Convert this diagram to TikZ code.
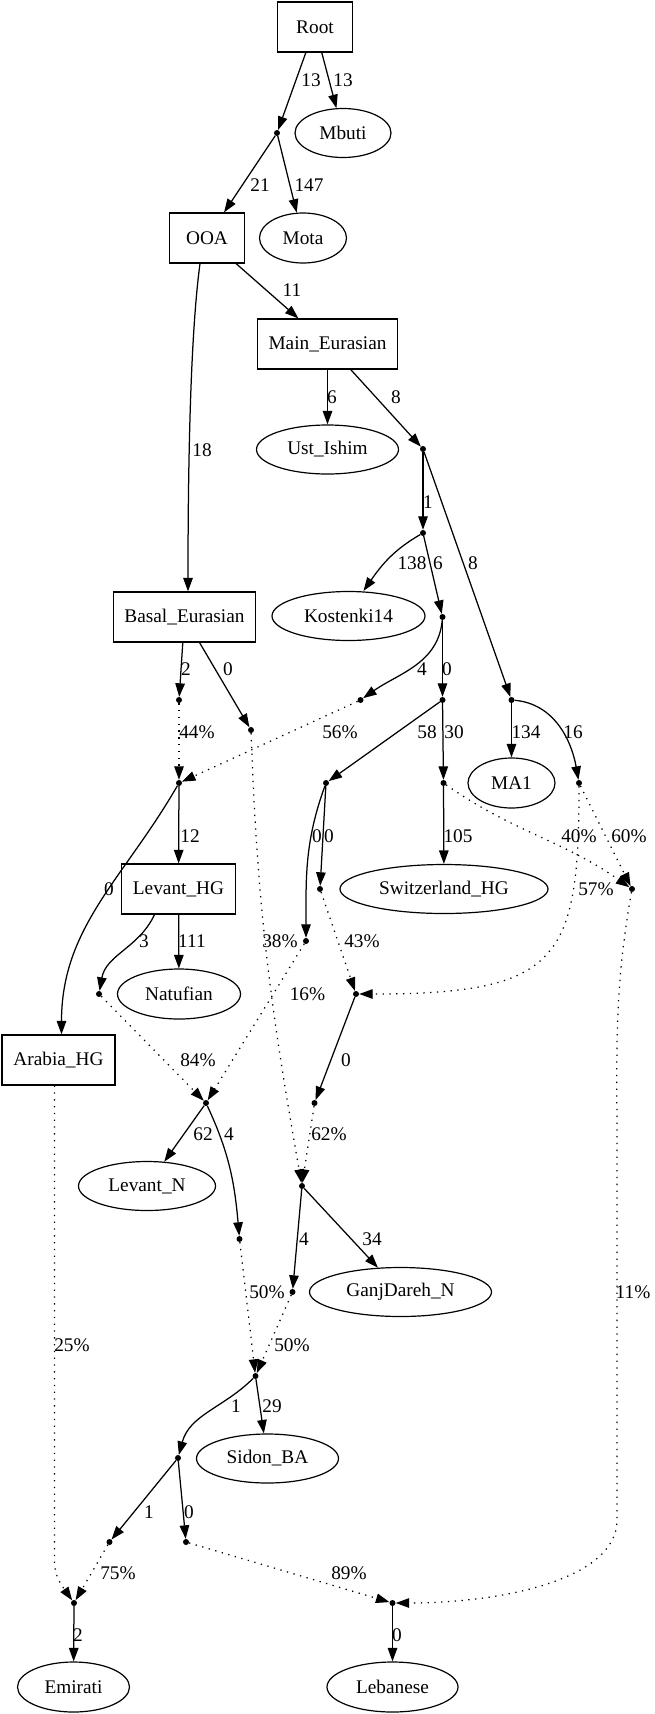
\documentclass[tikz,border=0pt]{standalone}
\usepackage{fontspec}
\setmainfont{Liberation Serif}
\usetikzlibrary{shapes.geometric,arrows.meta}
\begin{document}
\begin{tikzpicture}[x=1pt,y=-1pt]
       \tikzstyle{every node}=[font=\fontsize{19.3}{23}\selectfont]
       \tikzstyle{box}=[draw, rectangle, line width=1.2pt, minimum height=50pt, inner sep=0pt]
       \tikzstyle{pop}=[draw, ellipse, line width=1.2pt, minimum height=49pt, inner sep=0pt]
       \tikzstyle{dot}=[circle, fill, inner sep=0pt, minimum size=6pt]
       \tikzstyle{lbl}=[inner sep=0pt]
       \tikzstyle{drift}=[draw, line width=1.25pt, -{Triangle[length=13.5pt,width=9.5pt]}]
       \tikzstyle{admix}=[drift, dash pattern=on 1.3pt off 5.5pt]
       \useasboundingbox (0,0) rectangle (654,1714);
       \node[box, minimum width=75pt] (root) at (315,27) {Root};
       \node[pop, minimum width=96pt] (mbuti) at (343,133) {Mbuti};
       \node[dot] (p1) at (277,133) {};
       \node[box, minimum width=75pt] (ooa) at (207,238) {OOA};
       \node[pop, minimum width=87pt, minimum height=50pt] (mota) at (303,238) {Mota};
       \node[box, minimum width=140pt] (maineur) at (327.5,344) {Main\_Eurasian};
       \node[pop, minimum width=142pt] (ust) at (327.5,449.5) {Ust\_Ishim};
       \node[dot] (p2) at (423,449) {};
       \node[dot] (p3) at (423,533) {};
       \node[box, minimum width=142pt] (basal) at (184.5,617) {Basal\_Eurasian};
       \node[pop, minimum width=153pt] (kost) at (348.5,616) {Kostenki14};
       \node[dot] (p4) at (442.5,617) {};
       \node[dot] (p5) at (179,700) {};
       \node[dot] (p6) at (251,730) {};
       \node[dot] (p7) at (360.5,700) {};
       \node[dot] (p8) at (442.5,700) {};
       \node[dot] (p9) at (511.5,700) {};
       \node[dot] (p10) at (179,783) {};
       \node[dot] (p11) at (326,783) {};
       \node[dot] (p12) at (443.5,783) {};
       \node[pop, minimum width=87pt, minimum height=50pt] (ma1) at (511.5,783) {MA1};
       \node[dot] (p13) at (579,783) {};
       \node[box, minimum width=114pt] (levhg) at (178.5,889) {Levant\_HG};
       \node[dot] (p14) at (320,889) {};
       \node[pop, minimum width=208pt] (swiss) at (444,889) {Switzerland\_HG};
       \node[dot] (p15) at (632,889) {};
       \node[dot] (p16) at (306,941) {};
       \node[dot] (p18) at (99,994) {};
       \node[pop, minimum width=123pt, minimum height=50pt] (natuf) at (179,994) {Natufian};
       \node[dot] (p17) at (356,994) {};
       \node[box, minimum width=113pt] (arab) at (58.5,1060) {Arabia\_HG};
       \node[dot] (p19) at (206,1103) {};
       \node[dot] (p20) at (314.5,1103) {};
       \node[pop, minimum width=137pt] (levn) at (147,1186) {Levant\_N};
       \node[dot] (p21) at (302,1186) {};
       \node[dot] (p22) at (239.5,1239) {};
       \node[dot] (p23) at (292.5,1292) {};
       \node[pop, minimum width=182pt] (ganj) at (400.5,1292) {GanjDareh\_N};
       \node[dot] (p24) at (255.5,1376) {};
       \node[dot] (p25) at (178,1458) {};
       \node[pop, minimum width=142pt] (sidon) at (267.5,1458.5) {Sidon\_BA};
       \node[dot] (p26) at (109.5,1542) {};
       \node[dot] (p27) at (186,1542) {};
       \node[dot] (p28) at (74,1603) {};
       \node[dot] (p29) at (392.5,1603) {};
       \node[pop, minimum width=112pt, minimum height=50pt] (emir) at (73.5,1687) {Emirati};
       \node[pop, minimum width=131pt, minimum height=50pt] (leb) at (392.5,1687) {Lebanese};
       \draw[drift] (root) -- (p1) node[lbl] at (311,80) {13};
       \draw[drift] (root) -- (mbuti) node[lbl] at (343,80) {13};
       \draw[drift] (p1) -- (ooa) node[lbl] at (260,185) {21};
       \draw[drift] (p1) -- (mota) node[lbl] at (309,185) {147};
       \draw[drift] (ooa) -- (maineur) node[lbl] at (292,290) {11};
       \draw[drift] ([xshift=-7pt]ooa.south) .. controls (191,330) and (188,450) .. ([xshift=3.5pt]basal.north) node[lbl] at (202,450) {18};
       \draw[drift] (maineur) -- (ust) node[lbl] at (332,397) {6};
       \draw[drift] (maineur) -- (p2) node[lbl] at (396,397) {8};
       \draw[drift] (p2) -- (p3) node[lbl] at (428,502) {1};
       \draw[drift] (p2) -- (p9) node[lbl] at (473,563) {8};
       \draw[drift] (p3) to[out=-150,in=55] ([xshift=15pt]kost.north) node[lbl] at (412,563) {138};
       \draw[drift] (p3) -- (p4) node[lbl] at (438,563) {6};
       \draw[drift] (basal) -- (p5) node[lbl] at (186,669) {2};
       \draw[drift] (basal) -- (p6) node[lbl] at (228,669) {0};
       \draw[drift] (p4) to[out=-95,in=35] (p7) node[lbl] at (422,669) {4};
       \draw[drift] (p4) -- (p8) node[lbl] at (447,669) {0};
       \draw[admix] (p5) -- (p10) node[lbl] at (197,732) {44\%};
       \draw[admix] (p7) -- (p10) node[lbl] at (340,732) {56\%};
       \draw[drift] (p8) -- (p11) node[lbl] at (427,732) {58};
       \draw[drift] (p8) -- (p12) node[lbl] at (454,732) {30};
       \draw[drift] (p9) -- (ma1) node[lbl] at (526,732) {134};
       \draw[drift] (p9) to[out=-5,in=100] (p13) node[lbl] at (573,732) {16};
       \draw[drift] (p10) -- (levhg) node[lbl] at (190,836) {12};
       \draw[drift] (p11) to[out=-110,in=90] (p16) node[lbl] at (317,836) {0};
       \draw[drift] (p11) -- (p14) node[lbl] at (329,836) {0};
       \draw[drift] (p12) -- (swiss) node[lbl] at (458,836) {105};
       \draw[admix] (p12) to[out=-35,in=145] (p15) node[lbl] at (579,836) {40\%};
       \draw[admix] (p13) -- (p15) node[lbl] at (629,836) {60\%};
       \draw[drift] (p10) to[out=-120,in=90] ([xshift=3pt]arab.north) node[lbl] at (109,889) {0};
       \draw[admix] (p13) .. controls (579,960) and (560,994) .. (p17) node[lbl] at (596,889) {57\%};
       \draw[drift] ([xshift=-24pt]levhg.south) to[out=-115,in=80] (p18) node[lbl] at (144,941) {3};
       \draw[drift] (levhg) -- (natuf) node[lbl] at (192,941) {111};
       \draw[admix] (p6) to[out=-88,in=100] (p21) node[lbl] at (280,941) {38\%};
       \draw[admix] (p14) -- (p17) node[lbl] at (362,941) {43\%};
       \draw[admix] (p16) -- (p19) node[lbl] at (307.5,994) {16\%};
       \draw[admix] (p18) -- (p19) node[lbl] at (198,1060) {84\%};
       \draw[drift] (p17) -- (p20) node[lbl] at (346,1060) {0};
       \draw[drift] (p19) -- (levn) node[lbl] at (203,1134) {62};
       \draw[drift] (p19) to[out=-65,in=95] (p22) node[lbl] at (229,1134) {4};
       \draw[admix] (p20) -- (p21) node[lbl] at (329,1134) {62\%};
       \draw[drift] (p21) -- (p23) node[lbl] at (304,1239) {4};
       \draw[drift] (p21) -- (ganj) node[lbl] at (372,1239) {34};
       \draw[admix] (p22) -- (p24) node[lbl] at (267,1292) {50\%};
       \draw[admix] (p15) to[out=-100,in=90] (617,1150) -- (617,1520) .. controls (617,1580) and (500,1603) .. (p29) node[lbl] at (633,1292) {11\%};
       \draw[admix] (p23) -- (p24) node[lbl] at (292,1345) {50\%};
       \draw[admix] ([xshift=-4pt]arab.south) -- (54.5,1560) to[out=-90,in=125] (p28) node[lbl] at (72,1345) {25\%};
       \draw[drift] (p24) to[out=-135,in=75] (p25) node[lbl] at (236,1406) {1};
       \draw[drift] (p24) -- (sidon) node[lbl] at (272,1406) {29};
       \draw[drift] (p25) -- (p26) node[lbl] at (149,1512) {1};
       \draw[drift] (p25) -- (p27) node[lbl] at (189,1512) {0};
       \draw[admix] (p26) -- (p28) node[lbl] at (118,1573) {75\%};
       \draw[admix] (p27) -- (p29) node[lbl] at (349,1573) {89\%};
       \draw[drift] (p28) -- (emir) node[lbl] at (78,1635) {2};
       \draw[drift] (p29) -- (leb) node[lbl] at (397,1635) {0};
\end{tikzpicture}
\end{document}
